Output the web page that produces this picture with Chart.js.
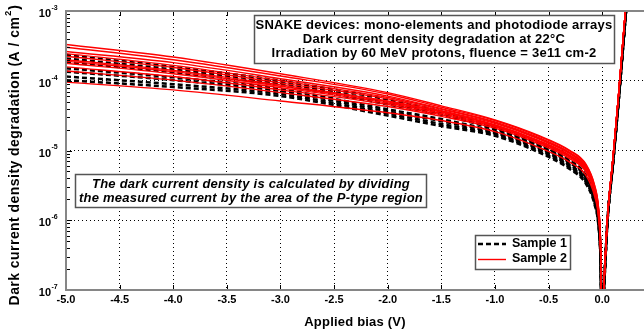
<!DOCTYPE html>
<html>
<head>
<meta charset="utf-8">
<title>SNAKE dark current density</title>
<script src="https://cdn.jsdelivr.net/npm/chart.js@4.4.1/dist/chart.umd.min.js"></script>
<style>
  html, body { margin: 0; padding: 0; background: #fff; }
  #wrap { width: 644px; height: 335px; }
</style>
</head>
<body>
<div id="wrap"><canvas id="darkCurrent" width="644" height="335"></canvas></div>
<script>
// Applied bias (V): reverse branch, then forward branch
const biasReverse = [-5, -4, -3, -2, -1.5, -1, -0.6, -0.3, -0.15, -0.07, -0.035, -0.015, -0.004];
const biasForward = [0.005, 0.05, 0.1, 0.15, 0.2, 0.25];

// Dark current density (A/cm2), Sample 1 devices (reverse branch)
const sample1Reverse = [
    [2.34e-4, 1.58e-4, 1.0e-4, 5.37e-5, 3.63e-5, 2.19e-5, 1.26e-5, 7.24e-6, 4.37e-6, 2.19e-6, 1.10e-6, 3.16e-7, 3.98e-8],
    [2.09e-4, 1.45e-4, 9.33e-5, 4.90e-5, 3.39e-5, 2.09e-5, 1.20e-5, 6.92e-6, 4.17e-6, 2.09e-6, 1.05e-6, 3.09e-7, 3.89e-8],
    [1.86e-4, 1.32e-4, 8.71e-5, 4.57e-5, 3.24e-5, 2.0e-5, 1.17e-5, 6.61e-6, 4.07e-6, 2.04e-6, 1.02e-6, 2.95e-7, 3.72e-8],
    [1.51e-4, 1.12e-4, 7.59e-5, 3.89e-5, 2.82e-5, 1.86e-5, 1.10e-5, 6.17e-6, 3.80e-6, 1.91e-6, 9.55e-7, 2.82e-7, 3.55e-8],
    [1.35e-4, 1.02e-4, 7.08e-5, 3.63e-5, 2.63e-5, 1.78e-5, 1.05e-5, 5.89e-6, 3.63e-6, 1.82e-6, 9.12e-7, 2.69e-7, 3.39e-8],
    [1.15e-4, 8.91e-5, 6.46e-5, 3.39e-5, 2.40e-5, 1.70e-5, 1.0e-5, 5.62e-6, 3.47e-6, 1.74e-6, 8.71e-7, 2.57e-7, 3.24e-8],
    [1.02e-4, 8.13e-5, 6.03e-5, 3.16e-5, 2.24e-5, 1.62e-5, 9.55e-6, 5.37e-6, 3.31e-6, 1.66e-6, 8.32e-7, 2.51e-7, 3.16e-8]
];
const sample1Forward = [5.0e-8, 1.0e-6, 6.3e-6, 4.5e-5, 3.8e-4, 3.2e-3];

// Dark current density (A/cm2), Sample 2 devices (reverse branch)
const sample2Reverse = [
    [3.31e-4, 2.19e-4, 1.26e-4, 6.76e-5, 4.37e-5, 2.75e-5, 1.66e-5, 1.0e-5, 6.31e-6, 3.16e-6, 1.58e-6, 5.0e-7, 5.0e-8],
    [3.02e-4, 2.0e-4, 1.17e-4, 6.46e-5, 4.17e-5, 2.69e-5, 1.62e-5, 9.77e-6, 6.17e-6, 3.09e-6, 1.55e-6, 4.90e-7, 4.90e-8],
    [2.63e-4, 1.82e-4, 1.07e-4, 6.03e-5, 3.98e-5, 2.57e-5, 1.55e-5, 9.33e-6, 5.89e-6, 2.95e-6, 1.48e-6, 4.68e-7, 4.79e-8],
    [2.45e-4, 1.66e-4, 1.0e-4, 5.75e-5, 3.89e-5, 2.51e-5, 1.51e-5, 9.12e-6, 5.75e-6, 2.88e-6, 1.45e-6, 4.57e-7, 4.68e-8],
    [2.24e-4, 1.55e-4, 9.33e-5, 5.50e-5, 3.72e-5, 2.45e-5, 1.48e-5, 8.91e-6, 5.62e-6, 2.82e-6, 1.41e-6, 4.47e-7, 4.68e-8],
    [2.0e-4, 1.41e-4, 8.71e-5, 5.13e-5, 3.63e-5, 2.34e-5, 1.41e-5, 8.51e-6, 5.50e-6, 2.75e-6, 1.38e-6, 4.37e-7, 4.57e-8],
    [1.91e-4, 1.35e-4, 8.32e-5, 5.01e-5, 3.55e-5, 2.29e-5, 1.38e-5, 8.32e-6, 5.37e-6, 2.69e-6, 1.35e-6, 4.27e-7, 4.47e-8],
    [1.78e-4, 1.26e-4, 7.94e-5, 4.79e-5, 3.39e-5, 2.24e-5, 1.35e-5, 8.13e-6, 5.25e-6, 2.63e-6, 1.32e-6, 4.17e-7, 4.47e-8],
    [1.58e-4, 1.15e-4, 7.41e-5, 4.57e-5, 3.24e-5, 2.19e-5, 1.32e-5, 7.94e-6, 5.01e-6, 2.51e-6, 1.26e-6, 4.07e-7, 4.37e-8],
    [1.38e-4, 1.02e-4, 6.76e-5, 4.27e-5, 3.09e-5, 2.09e-5, 1.26e-5, 7.59e-6, 4.90e-6, 2.45e-6, 1.23e-6, 3.89e-7, 4.27e-8],
    [9.55e-5, 7.41e-5, 5.13e-5, 3.47e-5, 2.69e-5, 1.86e-5, 1.12e-5, 6.76e-6, 4.37e-6, 2.19e-6, 1.10e-6, 3.55e-7, 3.98e-8]
];
const sample2Forward = [6.3e-8, 1.12e-6, 7.59e-6, 5.62e-5, 5.0e-4, 4.0e-3];

const xTicks = [-5, -4.5, -4, -3.5, -3, -2.5, -2, -1.5, -1, -0.5, 0];
const yTicks = [1e-7, 1e-6, 1e-5, 1e-4, 1e-3];

const legendLabels = ['Sample 1', 'Sample 2'];
const titleLines = [
    'SNAKE devices: mono-elements and photodiode arrays',
    'Dark current density degradation at 22\u00b0C',
    'Irradiation by 60 MeV protons, fluence = 3e11 cm-2'
];
const noteLines = [
    'The dark current density is calculated by dividing',
    'the measured current by the area of the P-type region'
];

const FONT = '"Liberation Sans", Arial, Helvetica, sans-serif';
const bias = biasReverse.concat(biasForward);

function toPoints(rev, fwd) {
    return rev.concat(fwd).map((j, i) => ({ x: bias[i], y: j }));
}

const datasets = [];
sample1Reverse.forEach(curve => {
    datasets.push({
        label: legendLabels[0],
        data: toPoints(curve, sample1Forward),
        borderColor: '#000',
        borderWidth: 2.5,
        borderDash: [5, 3],
        order: 2
    });
});
sample2Reverse.forEach(curve => {
    datasets.push({
        label: legendLabels[1],
        data: toPoints(curve, sample2Forward),
        borderColor: '#ff0000',
        borderWidth: 1.4,
        order: 1
    });
});

function drawBox(ctx, l, t, w, h) {
    ctx.fillStyle = '#fff';
    ctx.fillRect(l, t, w, h);
    ctx.strokeStyle = '#555';
    ctx.lineWidth = 1.5;
    ctx.strokeRect(l, t, w, h);
}

function setFont(ctx, font, spacing) {
    ctx.font = font;
    ctx.letterSpacing = spacing || '0px';
}

// Frame, inside ticks, tick labels, axis titles and text boxes
const decorations = {
    id: 'decorations',
    afterDraw(chart) {
        const { ctx, chartArea: a, scales: { x, y } } = chart;
        ctx.save();

        // tick marks pointing into the plot
        ctx.strokeStyle = '#000';
        ctx.lineWidth = 1;
        ctx.setLineDash([]);
        ctx.beginPath();
        xTicks.forEach(v => {
            const px = Math.round(x.getPixelForValue(v)) + 0.5;
            ctx.moveTo(px, a.bottom); ctx.lineTo(px, a.bottom - 5);
            ctx.moveTo(px, a.top); ctx.lineTo(px, a.top + 5);
        });
        yTicks.forEach((v, i) => {
            if (i === yTicks.length - 1) return;
            for (let m = 1; m <= 9; m++) {
                const py = Math.round(y.getPixelForValue(v * m)) + 0.5;
                ctx.moveTo(a.left, py);
                ctx.lineTo(a.left + (m === 1 ? 6 : 4), py);
            }
        });
        ctx.stroke();

        // axes frame
        ctx.strokeStyle = '#868686';
        ctx.lineWidth = 2;
        ctx.beginPath();
        ctx.moveTo(a.right, a.top);
        ctx.lineTo(a.left, a.top);
        ctx.lineTo(a.left, a.bottom);
        ctx.lineTo(a.right, a.bottom);
        ctx.stroke();

        // x tick labels
        ctx.fillStyle = '#000';
        setFont(ctx, 'bold 11px ' + FONT);
        ctx.textAlign = 'center';
        ctx.textBaseline = 'middle';
        xTicks.forEach(v => {
            ctx.fillText(v.toFixed(1), x.getPixelForValue(v), a.bottom + 10);
        });

        // y tick labels as powers of ten
        yTicks.forEach(v => {
            const py = y.getPixelForValue(v);
            const exp = Math.round(Math.log10(v));
            setFont(ctx, 'bold 11px ' + FONT);
            ctx.textAlign = 'right';
            ctx.fillText('10', 51, py + 3);
            setFont(ctx, 'bold 7px ' + FONT);
            ctx.textAlign = 'left';
            ctx.fillText(String(exp), 51.5, py - 3);
        });

        // axis titles
        setFont(ctx, 'bold 13px ' + FONT, '0.2px');
        ctx.textAlign = 'center';
        ctx.fillText('Applied bias (V)', (a.left + a.right) / 2, 322);

        ctx.save();
        ctx.translate(19, 155);
        ctx.rotate(-Math.PI / 2);
        ctx.textBaseline = 'alphabetic';
        const main = 'Dark current density degradation (A / cm';
        const tail = ')';
        setFont(ctx, 'bold 14px ' + FONT, '0.45px');
        const wMain = ctx.measureText(main).width;
        const wTail = ctx.measureText(tail).width;
        setFont(ctx, 'bold 9px ' + FONT);
        const wSup = ctx.measureText('2').width;
        const start = -(wMain + wSup + wTail + 2) / 2;
        ctx.textAlign = 'left';
        setFont(ctx, 'bold 14px ' + FONT, '0.45px');
        ctx.fillText(main, start, 0);
        setFont(ctx, 'bold 9px ' + FONT);
        ctx.fillText('2', start + wMain + 1, -8);
        setFont(ctx, 'bold 14px ' + FONT, '0.45px');
        ctx.fillText(tail, start + wMain + wSup + 2, 0);
        ctx.restore();

        // title box
        drawBox(ctx, 254.5, 15.5, 360, 48);
        ctx.fillStyle = '#000';
        setFont(ctx, 'bold 13px ' + FONT, '0.25px');
        ctx.textAlign = 'center';
        titleLines.forEach((s, i) => ctx.fillText(s, 434, 25 + i * 14));

        // note box
        drawBox(ctx, 75.5, 174.5, 351, 33);
        ctx.fillStyle = '#000';
        setFont(ctx, 'italic bold 13px ' + FONT, '0.25px');
        noteLines.forEach((s, i) => ctx.fillText(s, 251, 184 + i * 14));

        // legend box
        drawBox(ctx, 475.5, 235.5, 95, 34);
        const rows = [244, 259];
        ctx.lineWidth = 2.5;
        ctx.strokeStyle = '#000';
        ctx.setLineDash([5, 3]);
        ctx.beginPath(); ctx.moveTo(478, rows[0]); ctx.lineTo(506, rows[0]); ctx.stroke();
        ctx.setLineDash([]);
        ctx.lineWidth = 1.4;
        ctx.strokeStyle = '#ff0000';
        ctx.beginPath(); ctx.moveTo(478, rows[1] + 0.5); ctx.lineTo(506, rows[1] + 0.5); ctx.stroke();
        ctx.fillStyle = '#000';
        setFont(ctx, 'bold 12.5px ' + FONT);
        ctx.textAlign = 'left';
        legendLabels.forEach((s, i) => ctx.fillText(s, 512, rows[i]));

        ctx.restore();
    }
};

new Chart(document.getElementById('darkCurrent'), {
    type: 'line',
    data: { datasets },
    options: {
        responsive: false,
        animation: false,
        layout: { padding: { left: 66, right: 0, top: 11, bottom: 45 } },
        elements: {
            point: { radius: 0 },
            line: { cubicInterpolationMode: 'monotone', borderCapStyle: 'butt' }
        },
        plugins: {
            legend: { display: false },
            tooltip: { enabled: false }
        },
        scales: {
            x: {
                type: 'linear',
                min: -5,
                max: 0.39,
                afterBuildTicks: scale => { scale.ticks = xTicks.map(v => ({ value: v })); },
                ticks: { display: false },
                grid: { color: '#000', lineWidth: 1, drawTicks: false },
                border: { display: false, dash: [1, 3] }
            },
            y: {
                type: 'logarithmic',
                min: 1e-7,
                max: 1e-3,
                afterBuildTicks: scale => { scale.ticks = yTicks.map(v => ({ value: v })); },
                ticks: { display: false },
                grid: { color: '#000', lineWidth: 1, drawTicks: false },
                border: { display: false, dash: [1, 3] }
            }
        }
    },
    plugins: [decorations]
});
</script>
</body>
</html>
